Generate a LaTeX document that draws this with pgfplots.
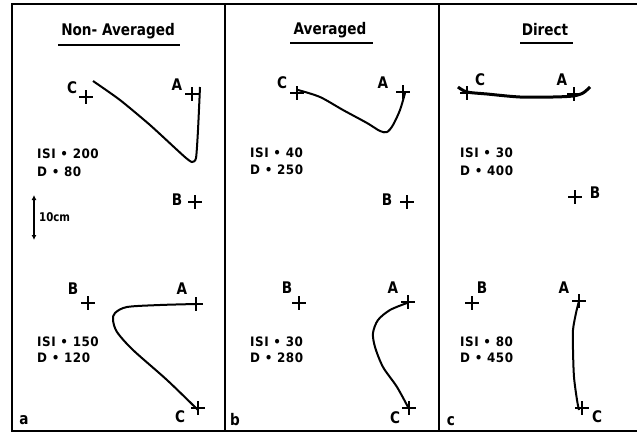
\documentclass[border=0pt]{standalone}
\usepackage{fontspec}
\setmainfont{DejaVu Sans}
\newfontfamily\letf{DejaVu Sans}[FakeStretch=0.85]
\newfontfamily\isif{DejaVu Sans}[FakeStretch=0.92, LetterSpace=4]
\usepackage{pgfplots}
\pgfplotsset{compat=1.18}
\usetikzlibrary{arrows.meta}
\newcommand\lab[1]{{\letf\fontsize{16}{18}\selectfont\bfseries #1}}
\newcommand\isi[1]{{\isif\fontsize{13}{15}\selectfont\bfseries #1}}
\begin{document}
\begin{tikzpicture}
\begin{axis}[
  width=637pt, height=437pt, scale only axis,
  xmin=0, xmax=637, ymin=0, ymax=437, y dir=reverse,
  hide axis, clip=false,
]
% bounding box
\path[use as bounding box] (rel axis cs:0,0) rectangle (rel axis cs:1,1);
% frame and dividers
\addplot[black, line width=1.4pt] coordinates {(637,4) (12,4) (12,431) (637,431)};
\addplot[black, line width=1.4pt] coordinates {(225,4) (225,431)};
\addplot[black, line width=1.4pt] coordinates {(439,4) (439,431)};
% title underlines
\addplot[black, line width=1.3pt] coordinates {(58,45) (180,45)};
\addplot[black, line width=1.3pt] coordinates {(290,43) (373,43)};
\addplot[black, line width=1.3pt] coordinates {(520,43) (573,43)};
% titles
\node[inner sep=0pt] at (axis cs:118,31) {\lab{Non- Averaged}};
\node[inner sep=0pt] at (axis cs:330,30) {\lab{Averaged}};
\node[inner sep=0pt] at (axis cs:545,30) {\lab{Direct}};
% crosses
\addplot[only marks, mark=+, mark size=7pt, mark options={line width=1.3pt}] coordinates {
 (86,97) (192,94) (195,202) (88,303) (196,304) (198,408)
 (297,93) (403,92) (407,202) (299,303) (408,302) (409,408)
 (467,93) (574,94) (575,197) (472,303) (579,301) (582,408)};
% trajectories
\addplot[black, line width=2pt, smooth, tension=0.4] coordinates {
 (93,81) (120,100) (150,125) (175,148) (186,158) (192,162) (196,158) (198,130) (200,87)};
\addplot[black, line width=2pt, smooth, tension=0.5] coordinates {
 (196,304) (160,305) (127,307) (115,313) (113,320) (117,332) (133,350) (167,380) (198,410)};
\addplot[black, line width=2pt, smooth, tension=0.5] coordinates {
 (298,90) (320,97) (343,110) (367,123) (380,131) (387,132) (393,125) (400,110) (405,93)};
\addplot[black, line width=2pt, smooth, tension=0.5] coordinates {
 (407,303) (390,310) (378,320) (373,333) (375,347) (383,367) (397,387) (409,409)};
\addplot[black, line width=3pt, smooth, tension=0.5] coordinates {
 (458,87) (467,92) (487,94) (520,97) (553,97) (573,96) (583,93) (590,87)};
\addplot[black, line width=2pt, smooth, tension=0.5] coordinates {
 (579,301) (576,313) (573,330) (573,350) (574,377) (577,400) (579,410)};
% scale arrow
\addplot[black, line width=1.5pt, {Latex[length=5pt,width=5pt]}-{Latex[length=5pt,width=5pt]}] coordinates {(34,195) (34,240)};
\node[anchor=west, inner sep=0pt] at (axis cs:39,217) {{\letf\fontsize{12}{14}\selectfont\bfseries 10cm}};
% point labels
\begin{scope}[every node/.style={inner sep=0pt}]
\node at (axis cs:72,88) {\lab{C}};
\node at (axis cs:177,85) {\lab{A}};
\node at (axis cs:177,200) {\lab{B}};
\node at (axis cs:73,289) {\lab{B}};
\node at (axis cs:182,289) {\lab{A}};
\node at (axis cs:180,417) {\lab{C}};
\node at (axis cs:282,83) {\lab{C}};
\node at (axis cs:383,83) {\lab{A}};
\node at (axis cs:387,200) {\lab{B}};
\node at (axis cs:287,288) {\lab{B}};
\node at (axis cs:393,288) {\lab{A}};
\node at (axis cs:395,418) {\lab{C}};
\node at (axis cs:480,80) {\lab{C}};
\node at (axis cs:562,80) {\lab{A}};
\node at (axis cs:595,193) {\lab{B}};
\node at (axis cs:482,288) {\lab{B}};
\node at (axis cs:564,288) {\lab{A}};
\node at (axis cs:597,417) {\lab{C}};
% panel letters
\node at (axis cs:24,420) {\lab{a}};
\node at (axis cs:235,420) {\lab{b}};
\node at (axis cs:451,421) {\lab{c}};
% ISI / D
\node[anchor=west] at (axis cs:37,154) {\isi{ISI • 200}};
\node[anchor=west] at (axis cs:37,172) {\isi{D • 80}};
\node[anchor=west] at (axis cs:37,342) {\isi{ISI • 150}};
\node[anchor=west] at (axis cs:37,358) {\isi{D • 120}};
\node[anchor=west] at (axis cs:250,153) {\isi{ISI • 40}};
\node[anchor=west] at (axis cs:250,170) {\isi{D • 250}};
\node[anchor=west] at (axis cs:250,342) {\isi{ISI • 30}};
\node[anchor=west] at (axis cs:250,358) {\isi{D • 280}};
\node[anchor=west] at (axis cs:460,153) {\isi{ISI • 30}};
\node[anchor=west] at (axis cs:460,171) {\isi{D • 400}};
\node[anchor=west] at (axis cs:460,342) {\isi{ISI • 80}};
\node[anchor=west] at (axis cs:460,358) {\isi{D • 450}};
\end{scope}
\end{axis}
\end{tikzpicture}
\end{document}
